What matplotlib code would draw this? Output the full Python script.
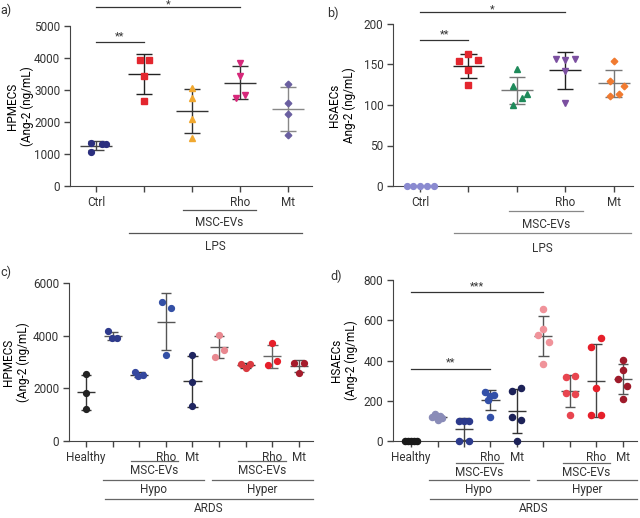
import numpy as np
import matplotlib
matplotlib.use("Agg")
import matplotlib.pyplot as plt
from matplotlib import transforms

plt.rcParams['font.family'] = ['Roboto', 'DejaVu Sans']
plt.rcParams['font.size'] = 8.5
plt.rcParams['text.color'] = '#333333'
plt.rcParams['axes.edgecolor'] = '#444444'
plt.rcParams['xtick.color'] = '#444444'
plt.rcParams['ytick.color'] = '#444444'
plt.rcParams['xtick.labelcolor'] = '#333333'
plt.rcParams['ytick.labelcolor'] = '#333333'

# ---- panel a: HPMECs, LPS ----
a_vals = [[1350, 1320, 1320, 1050],
          [3950, 3950, 3450, 2650],
          [3050, 2750, 2100, 1500],
          [3850, 3450, 2850, 2750],
          [3200, 2600, 2250, 1580]]
a_offs = [[-0.1, 0.12, 0.22, -0.1], [-0.09, 0.1, 0, 0], [0, 0, 0, 0],
          [0, 0, 0.1, -0.09], [0, 0, 0, 0]]
a_colors = ['#2b2f7f', '#e3262e', '#f0a830', '#d6287a', '#6a5fa0']
a_markers = ['o', 's', '^', 'v', 'D']
a_err = ['#444444', '#222222', '#333333', '#333333', '#888888']
a_ticks = ['Ctrl', '', '', 'Rho', 'Mt']

# ---- panel b: HSAECs, LPS ----
b_vals = [[0, 0, 0, 0, 0],
          [163, 154, 155, 143, 125],
          [144, 124, 113, 109, 100],
          [157, 155, 157, 142, 103],
          [154, 130, 124, 114, 111]]
b_offs = [[-0.28, -0.14, 0, 0.14, 0.28], [0, -0.19, 0.2, 0, 0],
          [0, -0.09, 0.2, 0.1, -0.09], [-0.2, 0, 0.2, 0, 0],
          [0, -0.08, 0.22, 0.12, -0.08]]
b_colors = ['#8a8ad0', '#e3262e', '#1e8a5a', '#7b4fa0', '#f07a30']
b_markers = ['o', 's', '^', 'v', 'D']
b_err = ['#888888', '#222222', '#777777', '#222222', '#777777']
b_ticks = ['Ctrl', '', '', 'Rho', 'Mt']

# ---- panel c: HPMECs, ARDS ----
c_vals = [[2530, 1820, 1200],
          [4180, 3900, 3930],
          [2620, 2450, 2500],
          [5270, 5050, 3280],
          [3250, 2230, 1330],
          [4020, 3470, 3190],
          [2920, 2920, 2770],
          [3720, 3050, 2890],
          [2970, 2970, 2600]]
c_offs = [[0, 0, 0], [-0.16, -0.04, 0.15], [-0.16, -0.04, 0.15],
          [-0.15, 0.19, 0], [0, 0, 0], [0, 0.19, -0.15],
          [-0.16, 0.15, 0], [0, 0.19, -0.15], [-0.17, 0.19, 0]]
c_colors = ['#222222', '#2e3a8c', '#34479e', '#3450a5', '#1f2560',
            '#e88890', '#d93a40', '#e61f2a', '#a51c2c']
c_err = ['#333333', '#555555', '#333333', '#555555', '#333333',
         '#555555', '#333333', '#666666', '#555555']
c_ticks = ['Healthy', '', '', 'Rho', 'Mt', '', '', 'Rho', 'Mt']

# ---- panel d: HSAECs, ARDS ----
d_vals = [[0, 0, 0, 0, 0],
          [132, 126, 118, 112, 105],
          [100, 100, 100, 0, 0],
          [242, 228, 222, 204, 121],
          [265, 247, 121, 106, 0],
          [654, 558, 525, 494, 381],
          [325, 320, 240, 234, 129],
          [510, 465, 265, 131, 128],
          [404, 353, 310, 273, 207]]
d_offs = [[-0.24, -0.12, 0, 0.12, 0.24], [-0.1, 0.1, -0.2, 0.18, 0],
          [-0.19, 0, 0.19, -0.19, 0.19], [-0.2, 0.15, 0, -0.08, 0],
          [0.16, -0.18, -0.18, 0.16, 0], [0, 0, -0.19, 0.19, 0],
          [0.18, -0.16, -0.16, 0.18, 0], [0.18, -0.2, 0, 0.18, -0.2],
          [0, 0, -0.19, 0.15, 0]]
d_colors = ['#1a1a1a', '#8a8cb8', '#2c3a8c', '#3350a8', '#1d2258',
            '#f0939a', '#e8454f', '#e61f2a', '#9e1a2a']
d_err = ['#333333', '#444444', '#444444', '#444444', '#333333',
         '#555555', '#555555', '#444444', '#555555']
d_ticks = ['Healthy', '', '', 'Rho', 'Mt', '', '', 'Rho', 'Mt']

W, H = 640, 518
fig = plt.figure(figsize=(W / 100, H / 100), dpi=100)


def px_axes(x0, x1, ytop, ybot):
    return fig.add_axes([x0 / W, 1 - ybot / H, (x1 - x0) / W, (ybot - ytop) / H])


def draw(ax, vals, offs, colors, markers, errc, mean_hw, cap_hw, ms):
    for i, v in enumerate(vals):
        v = np.array(v, dtype=float)
        x = i + np.array(offs[i])
        mu = v.mean()
        sd = v.std(ddof=1)
        ec = errc[i]
        if sd > 0:
            ax.vlines(i, mu - sd, mu + sd, color=ec, lw=1, zorder=2)
            ax.hlines([mu - sd, mu + sd], i - cap_hw, i + cap_hw, color=ec, lw=1, zorder=2)
        ax.hlines(mu, i - mean_hw, i + mean_hw, color=ec, lw=1, zorder=2)
        m = markers[i] if isinstance(markers, list) else markers
        size = ms * 0.8 if m == 'D' else ms
        ax.plot(x, v, ls='none', marker=m, color=colors[i], ms=size,
                mec=colors[i], clip_on=False, zorder=3)


def style(ax, n, xlim, ylim, yticks, ticklabels, ylabel, labelx):
    ax.set_xlim(*xlim)
    ax.set_ylim(*ylim)
    ax.set_yticks(yticks)
    ax.set_xticks(range(n))
    ax.set_xticklabels(ticklabels)
    for s in ['top', 'right']:
        ax.spines[s].set_visible(False)
    ax.tick_params(direction='out', length=4, width=1, pad=3)
    ax.set_ylabel(ylabel, linespacing=1.15, fontsize=8.5)
    ax.yaxis.set_label_coords(labelx, 0.5)


def bracket(ax, x0, x1, dy, text, tdy, color):
    base = transforms.blended_transform_factory(ax.transData, ax.transAxes)
    tl = transforms.offset_copy(base, fig=fig, y=-dy, units='dots')
    ax.plot([x0, x1], [0, 0], transform=tl, color=color, lw=0.9, clip_on=False)
    tt = transforms.offset_copy(base, fig=fig, y=-tdy, units='dots')
    ax.text((x0 + x1) / 2, 0, text, transform=tt, ha='center', va='center')


def sig(ax, x0, x1, y, text, off=1):
    ax.plot([x0, x1], [y, y], color='#333333', lw=0.9, clip_on=False)
    tt = transforms.offset_copy(ax.transData, fig=fig, y=off, units='dots')
    ax.text((x0 + x1) / 2, y, text, transform=tt, ha='center', va='bottom', fontsize=8)


# panel a
ax = px_axes(70, 312, 26, 186)
draw(ax, a_vals, a_offs, a_colors, a_markers, a_err, 0.33, 0.17, 4.2)
style(ax, 5, (-0.54, 4.5), (0, 5000), range(0, 5001, 1000), a_ticks,
      'HPMECS\n(Ang-2 (ng/mL)', -0.15)
sig(ax, 0, 1, 4500, '**')
sig(ax, 0, 3, 5600, '*', off=-3)
bracket(ax, 1.81, 3.33, 24, 'MSC-EVs', 37, '#555555')
bracket(ax, 0.69, 4.29, 47, 'LPS', 60, '#555555')

# panel b
ax = px_axes(393, 633, 24, 186)
draw(ax, b_vals, b_offs, b_colors, b_markers, b_err, 0.33, 0.17, 4.2)
style(ax, 5, (-0.56, 4.4), (0, 200), range(0, 201, 50), b_ticks,
      'HSAECs\nAng-2 (ng/mL)', -0.155)
sig(ax, 0, 1, 180, '**')
sig(ax, 0, 3, 215, '*', off=-3)
bracket(ax, 1.84, 3.36, 25, 'MSC-EVs', 39, '#888888')
bracket(ax, 0.7, 4.35, 47, 'LPS', 62, '#888888')

# panel c
ax = px_axes(69, 313, 283, 441)
draw(ax, c_vals, c_offs, c_colors, 'o', c_err, 0.34, 0.2, 4.2)
style(ax, 9, (-0.64, 8.53), (0, 6000), range(0, 6001, 2000), c_ticks,
      'HPMECS\n(Ang-2 (ng/mL)', -0.16)
bracket(ax, 1.69, 3.46, 20, 'MSC-EVs', 30, '#666666')
bracket(ax, 5.71, 7.52, 20, 'MSC-EVs', 30, '#666666')
bracket(ax, 0.64, 4.44, 39, 'Hypo', 48, '#666666')
bracket(ax, 4.74, 8.53, 39, 'Hyper', 48, '#666666')
bracket(ax, 0.71, 8.53, 58, 'ARDS', 68, '#666666')

# panel d
ax = px_axes(393, 637, 280, 441)
draw(ax, d_vals, d_offs, d_colors, 'o', d_err, 0.34, 0.2, 4.4)
style(ax, 9, (-0.68, 8.53), (0, 800), range(0, 801, 200), d_ticks,
      'HSAECs\n(Ang-2 (ng/mL)', -0.145)
sig(ax, 0, 5, 740, '***')
sig(ax, 0, 3, 360, '**')
bracket(ax, 1.7, 3.47, 22, 'MSC-EVs', 32, '#666666')
bracket(ax, 5.74, 7.51, 22, 'MSC-EVs', 32, '#666666')
bracket(ax, 0.68, 4.45, 39, 'Hypo', 49, '#666666')
bracket(ax, 4.75, 8.53, 39, 'Hyper', 49, '#666666')
bracket(ax, 0.72, 8.53, 58, 'ARDS', 68, '#666666')

# panel letters
for lbl, (px, py) in zip(['a)', 'b)', 'c)', 'd)'],
                         [(0, 10), (327, 13), (0, 272), (330, 276)]):
    fig.text(px / W, 1 - py / H, lbl, ha='left', va='center', fontsize=9)

fig.savefig('out.png', dpi=100)
